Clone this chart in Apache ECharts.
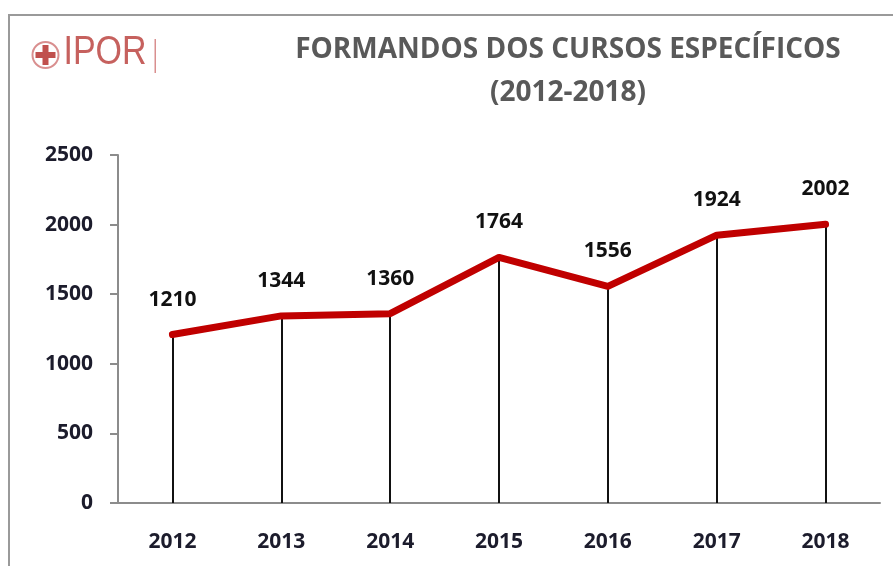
<!DOCTYPE html>
<html>
<head>
<meta charset="utf-8">
<script src="https://cdn.jsdelivr.net/npm/echarts@6/dist/echarts.min.js"></script>
<style>
  html, body { margin: 0; padding: 0; background: #fff; }
  #main { width: 893px; height: 566px; }
</style>
</head>
<body>
<div id="main"></div>
<script>
var anos = ['2012', '2013', '2014', '2015', '2016', '2017', '2018'];
var formandos = [1210, 1344, 1360, 1764, 1556, 1924, 2002];
var yTicks = [0, 500, 1000, 1500, 2000, 2500];

var myChart = echarts.init(document.getElementById('main'));

// linhas verticais de cada ponto até ao eixo
var linhas = [];
for (var i = 0; i < anos.length; i++) {
    linhas.push([
        { coord: [anos[i], 0] },
        { coord: [anos[i], formandos[i]] }
    ]);
}

var fonte = '"Open Sans", "Noto Sans", sans-serif';

var option = {
    backgroundColor: '#fff',
    animation: false,
    title: {
        text: 'FORMANDOS DOS CURSOS ESPECÍFICOS\n(2012-2018)',
        left: 563,
        top: 24,
        textAlign: 'center',
        textStyle: {
            color: '#595959',
            fontFamily: fonte,
            fontSize: 28,
            fontWeight: 'bold',
            lineHeight: 43
        }
    },
    graphic: [
        {
            type: 'rect',
            shape: { x: 9, y: 15, width: 900, height: 600 },
            style: { fill: 'none', stroke: '#9a9a9a', lineWidth: 2 },
            silent: true
        },
        {
            type: 'group',
            left: 30,
            top: 33,
            children: [
                {
                    type: 'circle',
                    shape: { cx: 15, cy: 19, r: 13 },
                    style: { fill: 'none', stroke: '#d98f8f', lineWidth: 2 }
                },
                {
                    type: 'rect',
                    shape: { x: 12, y: 9, width: 6, height: 20 },
                    style: { fill: '#c0504d' }
                },
                {
                    type: 'rect',
                    shape: { x: 5, y: 16, width: 20, height: 6 },
                    style: { fill: '#c0504d' }
                },
                {
                    type: 'text',
                    x: 33,
                    y: -3,
                    scaleX: 0.85,
                    style: {
                        text: 'IPOR',
                        fill: '#c0504d',
                        font: '40px "Liberation Sans", "Noto Sans", sans-serif',
                        opacity: 0.9
                    }
                },
                {
                    type: 'rect',
                    shape: { x: 124, y: 3, width: 1.5, height: 34 },
                    style: { fill: '#d98f8f' }
                }
            ]
        }
    ],
    grid: {
        left: 118,
        right: 13,
        top: 155,
        bottom: 63
    },
    xAxis: {
        type: 'category',
        data: anos,
        boundaryGap: true,
        axisLine: { lineStyle: { color: '#8c8c8c', width: 2 } },
        axisTick: { show: false },
        axisLabel: {
            margin: 29,
            color: '#1c1c2c',
            fontFamily: fonte,
            fontSize: 21,
            fontWeight: 'bold'
        }
    },
    yAxis: {
        type: 'value',
        min: yTicks[0],
        max: yTicks[yTicks.length - 1],
        interval: 500,
        splitLine: { show: false },
        axisLine: { show: true, lineStyle: { color: '#8c8c8c', width: 2 } },
        axisTick: { show: true, length: 8, lineStyle: { color: '#8c8c8c', width: 2 } },
        axisLabel: {
            margin: 25,
            color: '#1c1c2c',
            fontFamily: fonte,
            fontSize: 21,
            fontWeight: 'bold',
            formatter: function (v) { return String(v); }
        }
    },
    series: [{
        name: 'Formandos',
        type: 'line',
        data: formandos,
        symbol: 'circle',
        symbolSize: 1,
        showSymbol: true,
        z: 3,
        itemStyle: { color: '#c00000' },
        lineStyle: { color: '#c00000', width: 7, cap: 'round', join: 'round' },
        label: {
            show: true,
            position: 'top',
            distance: 24,
            color: '#111',
            fontFamily: fonte,
            fontSize: 21,
            fontWeight: 'bold'
        },
        markLine: {
            silent: true,
            symbol: 'none',
            z: 1,
            label: { show: false },
            lineStyle: { color: '#111', width: 2, type: 'solid' },
            data: linhas
        }
    }]
};

myChart.setOption(option);
</script>
</body>
</html>
